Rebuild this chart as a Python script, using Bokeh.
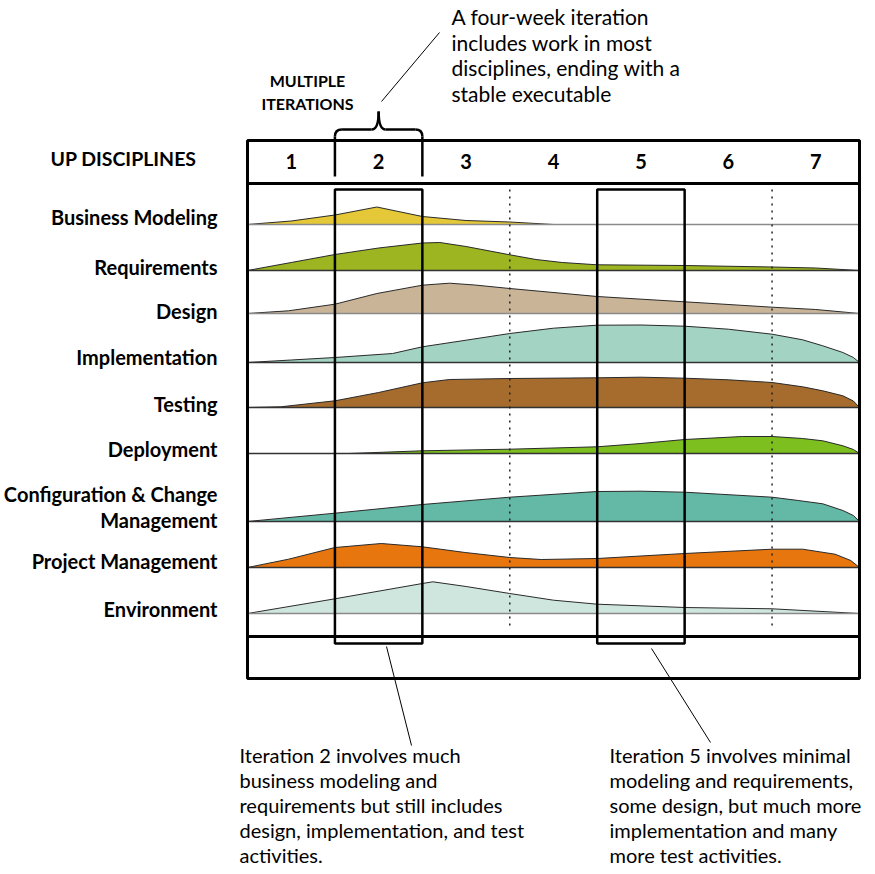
from bokeh.plotting import figure
from bokeh.models import Range1d
from bokeh.embed import file_html
from bokeh.resources import INLINE
from bokeh.core.properties import value

# ---------------- data ----------------
iterations = ["1", "2", "3", "4", "5", "6", "7"]
disciplines = ["Business Modeling", "Requirements", "Design", "Implementation",
               "Testing", "Deployment", "Configuration & Change|Management",
               "Project Management", "Environment"]

# effort profiles: t = position in iterations (0..7), h = relative effort
bm_t = [0, 0.5, 1, 1.48, 2, 2.5, 3, 3.5]
bm_h = [0, 3.5, 9.5, 17.5, 8, 4, 2.5, 0]

req_t = [0, 0.5, 1, 1.5, 2, 2.2, 2.5, 3, 3.3, 3.6, 4, 5, 6, 6.5, 7]
req_h = [0, 8, 16, 22.5, 27.5, 28, 24, 15.7, 11, 8, 5.7, 5, 3.5, 2.5, 0]

des_t = [0, 0.47, 1, 1.48, 2, 2.31, 2.6, 3, 4, 5, 6, 6.5, 7]
des_h = [0, 2.7, 9.3, 20, 28.3, 30.3, 28.5, 25, 17, 11.7, 6.3, 4, 0]

imp_t = [0, 0.5, 1, 1.66, 2, 2.5, 3, 3.5, 4, 4.5, 5, 5.5, 6, 6.35, 6.58, 6.81, 6.93, 7]
imp_h = [0, 2.5, 5, 9, 15.7, 22.3, 29, 34.3, 37.3, 37.5, 36.3, 33.3, 28.3, 22.7, 16.7, 10, 5, 0]

tst_t = [0, 0.38, 1, 1.5, 2, 2.31, 3, 4, 4.5, 5, 5.5, 6, 6.35, 6.58, 6.81, 6.93, 7]
tst_h = [0, 0.7, 6.7, 15, 24.7, 28, 29, 29.7, 30.3, 29.3, 27.7, 25, 20.7, 16.7, 11.7, 6.5, 0]

dep_t = [1.16, 2, 3, 4, 4.5, 5, 5.66, 6, 6.35, 6.58, 6.81, 6.93, 7]
dep_h = [0, 2.7, 4.3, 6.7, 10, 14, 17, 17, 15, 12.7, 7.7, 4, 0]

ccm_t = [0, 1, 2, 3, 4, 4.5, 5, 6, 6.3, 6.58, 6.81, 6.93, 7]
ccm_h = [0, 8.3, 17, 24.3, 30, 30.3, 29.3, 24.3, 21, 17.7, 11, 6, 0]

pm_t = [0, 0.47, 1, 1.53, 2, 2.49, 3, 3.36, 4, 5, 6, 6.35, 6.72, 6.9, 7]
pm_h = [0, 8.3, 20, 24, 20.7, 15, 10, 8, 9, 14, 18.3, 18.3, 13.3, 7, 0]

env_t = [0, 1, 2, 2.12, 2.5, 3, 3.5, 4, 5, 6, 7]
env_h = [0, 14.7, 30, 31.7, 27, 20, 13.3, 9.3, 6, 4.7, 0]

profiles_t = [bm_t, req_t, des_t, imp_t, tst_t, dep_t, ccm_t, pm_t, env_t]
profiles_h = [bm_h, req_h, des_h, imp_h, tst_h, dep_h, ccm_h, pm_h, env_h]

highlighted = [2, 5]      # iterations drawn in boxes
dotted_at = [3, 6]        # dotted separators (iteration boundaries)

top_note = ["A four-week iteration", "includes work in most",
            "disciplines, ending with a", "stable executable"]
left_note = ["Iteration 2 involves much", "business modeling and",
             "requirements but still includes", "design, implementation, and test",
             "activities."]
right_note = ["Iteration 5 involves minimal", "modeling and requirements,",
              "some design, but much more", "implementation and many",
              "more test activities."]

# ---------------- layout / styles ----------------
colors = ["#E5C837", "#9CB520", "#C9B498", "#A2D3C3", "#A56C2E",
          "#7DBF1F", "#63B9A6", "#E8760F", "#CFE6DE"]
base_colors = ["#8a8a8a", "#333333", "#8a8a8a", "#333333", "#333333",
               "#333333", "#333333", "#333333", "#8a8a8a"]
row_base = [224, 270, 313, 362, 407, 453, 521, 567, 613]
label_y = [216, 266, 310, 356, 403, 448, 493, 560, 608]

W, H = 862, 866
X0, X1 = 247, 859          # grid left/right (picture px)
COL = (X1 - X0) / 7.0
TOP, HEAD_B, SEP, BOT = 140, 183, 636, 678
BOX_T, BOX_B = 189, 643

FONT = value("Lato")

p = figure(width=W, height=H, output_backend="svg", toolbar_location=None,
           x_axis_type=None, y_axis_type=None,
           x_range=Range1d(0, W), y_range=Range1d(H, 0),
           min_border=0, outline_line_color=None,
           background_fill_color="white", border_fill_color="white")
p.grid.visible = False
p.extra_x_ranges = {"iter": Range1d((0 - X0) / COL, (W - X0) / COL)}


def xpx(t):
    return X0 + t * COL


# humps
for i, (ts, hs) in enumerate(zip(profiles_t, profiles_h)):
    b = row_base[i]
    ytop = [b - h for h in hs]
    p.varea(x=ts, y1=[b] * len(ts), y2=ytop, fill_color=colors[i],
            x_range_name="iter")
    p.line(x=ts, y=ytop, line_color="#2a2a2a", line_width=1,
           x_range_name="iter")
    p.segment(x0=[0], y0=[b], x1=[7], y1=[b], line_color=base_colors[i],
              line_width=1.3, x_range_name="iter")

# dotted separators
p.segment(x0=dotted_at, y0=[BOX_T] * len(dotted_at), x1=dotted_at,
          y1=[628] * len(dotted_at), line_color="#222222", line_width=1.5,
          line_dash="2 5", x_range_name="iter")

# outer frame and separators
p.quad(left=[X0], right=[X1], top=[TOP], bottom=[BOT], fill_color=None,
       line_color="black", line_width=3)
p.segment(x0=[X0, X0], y0=[HEAD_B, SEP], x1=[X1, X1], y1=[HEAD_B, SEP],
          line_color="black", line_width=3)

# iteration boxes
for k in highlighted:
    p.quad(left=[k - 1], right=[k], top=[BOX_T], bottom=[BOX_B],
           fill_color=None, line_color="black", line_width=2.5,
           x_range_name="iter")

# header numbers
p.text(x=[i + 0.5 for i in range(7)], y=[161] * 7, text=iterations,
       text_font=FONT, text_font_style="bold", text_font_size="20px",
       text_align="center", text_baseline="middle", text_color="black",
       x_range_name="iter")

# brace over iteration 2
bl, br = xpx(1), xpx(2)
bm = (bl + br) / 2
yarm, ytip, ylow = 129, 111, 176
p.segment(x0=[bl, br], y0=[ylow, ylow], x1=[bl, br], y1=[yarm + 7, yarm + 7],
          line_color="black", line_width=2.5)
p.quadratic(x0=[bl, br], y0=[yarm + 7, yarm + 7], x1=[bl + 7, br - 7],
            y1=[yarm, yarm], cx=[bl, br], cy=[yarm, yarm],
            line_color="black", line_width=2.5)
p.segment(x0=[bl + 7, br - 7], y0=[yarm, yarm], x1=[bm - 7, bm + 7],
          y1=[yarm, yarm], line_color="black", line_width=2.5)
p.quadratic(x0=[bm - 7, bm + 7], y0=[yarm, yarm], x1=[bm, bm], y1=[ytip, ytip],
            cx=[bm, bm], cy=[yarm, yarm], line_color="black", line_width=2.5)

# callout lines
p.segment(x0=[381, 386, 651], y0=[101, 646, 648], x1=[439, 411, 710],
          y1=[32, 745, 742], line_color="black", line_width=1)

# labels
p.text(x=[123], y=[158], text=["UP DISCIPLINES"], text_font=FONT,
       text_font_style="bold", text_font_size="19.5px", text_align="center",
       text_baseline="middle", text_color="black")
lab_txt, lab_y = [], []
for i, d in enumerate(disciplines):
    parts = d.split("|")
    for j, part in enumerate(parts):
        lab_txt.append(part)
        lab_y.append(label_y[i] + j * 26)
p.text(x=[217] * len(lab_txt), y=lab_y, text=lab_txt, text_font=FONT,
       text_font_style="bold", text_font_size="20px", text_align="right",
       text_baseline="middle", text_color="black")

p.text(x=[307, 307], y=[80, 103], text=["MULTIPLE", "ITERATIONS"],
       text_font=FONT, text_font_style="bold", text_font_size="16px",
       text_align="center", text_baseline="middle", text_color="black")

p.text(x=[451] * len(top_note), y=[16 + 25.7 * i for i in range(len(top_note))],
       text=top_note, text_font=FONT, text_font_size="21px",
       text_align="left", text_baseline="middle", text_color="black")
p.text(x=[239] * len(left_note), y=[754 + 25 * i for i in range(len(left_note))],
       text=left_note, text_font=FONT, text_font_size="20px",
       text_align="left", text_baseline="middle", text_color="black")
p.text(x=[609] * len(right_note), y=[754 + 25 * i for i in range(len(right_note))],
       text=right_note, text_font=FONT, text_font_size="20px",
       text_align="left", text_baseline="middle", text_color="black")

open("out.html", "w").write(file_html(p, INLINE))
